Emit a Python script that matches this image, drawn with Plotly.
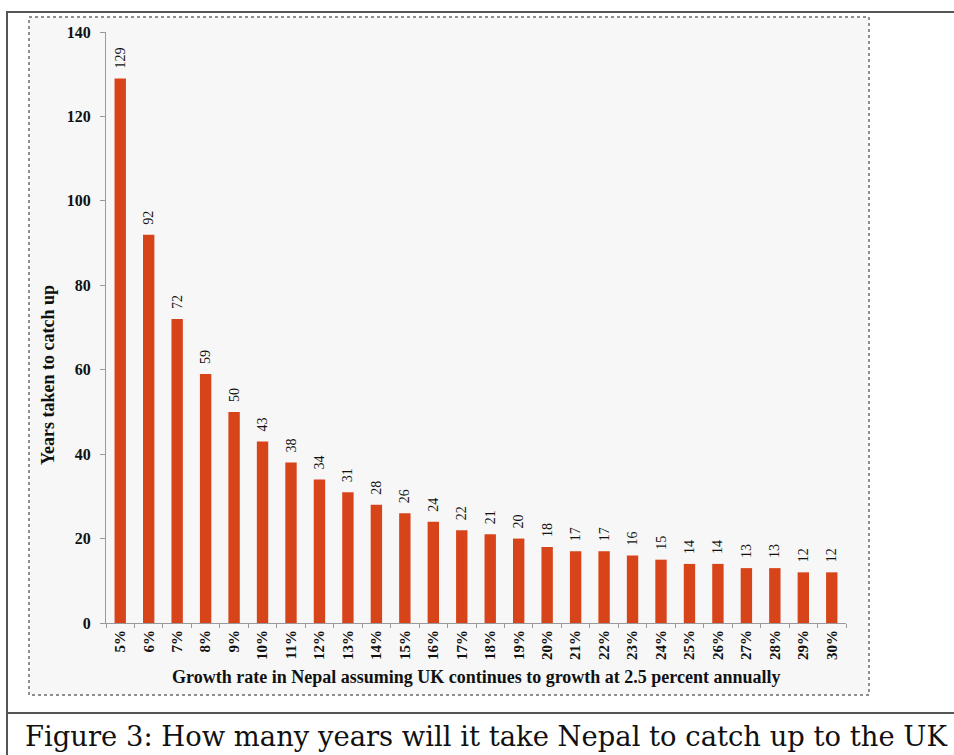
import plotly.graph_objects as go

# Growth rates in Nepal (categories) and years needed to catch up with the UK
growth_rates = ["5%", "6%", "7%", "8%", "9%", "10%", "11%", "12%", "13%", "14%",
                "15%", "16%", "17%", "18%", "19%", "20%", "21%", "22%", "23%", "24%",
                "25%", "26%", "27%", "28%", "29%", "30%"]
years_to_catch_up = [129, 92, 72, 59, 50, 43, 38, 34, 31, 28,
                     26, 24, 22, 21, 20, 18, 17, 17, 16, 15,
                     14, 14, 13, 13, 12, 12]
y_ticks = [0, 20, 40, 60, 80, 100, 120, 140]

W, H = 954, 755
PLOT_L, PLOT_R, PLOT_T, PLOT_B = 106, 846, 32, 623
SERIF = "Liberation Serif, Times New Roman, serif"
CAPTION_FONT = "DejaVu Serif, serif"
BAR_COLOR = "#D8441A"
NBSP = "\u00a0"

fig = go.Figure(
    go.Bar(
        x=growth_rates,
        y=years_to_catch_up,
        marker=dict(color=BAR_COLOR, line=dict(width=0)),
        text=years_to_catch_up,
        # leading non-breaking spaces lift the rotated label off the bar top
        texttemplate=NBSP * 2 + "%{text}",
        textposition="outside",
        textangle=-90,
        constraintext="none",
        cliponaxis=False,
        textfont=dict(family=SERIF, size=14, color="#111111"),
        hoverinfo="skip",
    )
)

# paper coordinates are relative to the plotting area; convert from page pixels
def px_x(v):
    return (v - PLOT_L) / (PLOT_R - PLOT_L)

def px_y(v):
    return (PLOT_B - v) / (PLOT_B - PLOT_T)

shapes = [
    # outer figure frame
    dict(type="rect", xref="paper", yref="paper",
         x0=px_x(7), x1=px_x(980), y0=px_y(12), y1=px_y(790),
         line=dict(color="#555555", width=2), fillcolor="rgba(0,0,0,0)", layer="below"),
    # caption separator
    dict(type="line", xref="paper", yref="paper",
         x0=px_x(7), x1=px_x(980), y0=px_y(713), y1=px_y(713),
         line=dict(color="#555555", width=2)),
    # chart area panel
    dict(type="rect", xref="paper", yref="paper",
         x0=px_x(29), x1=px_x(869), y0=px_y(17), y1=px_y(695),
         line=dict(color="#8f8f8f", width=2, dash="dot"), fillcolor="#F7F7F7", layer="below"),
]

annotations = [
    dict(text="<b>Years taken to catch up</b>", xref="paper", yref="paper",
         x=px_x(48), y=px_y(375), textangle=-90, showarrow=False,
         xanchor="center", yanchor="middle",
         font=dict(family=SERIF, size=18, color="#111111")),
    dict(text="<b>Growth rate in Nepal assuming UK continues to growth at 2.5 percent annually</b>",
         xref="paper", yref="paper", x=px_x(476), y=px_y(677), showarrow=False,
         xanchor="center", yanchor="middle",
         font=dict(family=SERIF, size=18, color="#111111")),
    dict(text="Figure 3: How many years will it take Nepal to catch up to the UK",
         xref="paper", yref="paper", x=px_x(486), y=px_y(736), showarrow=False,
         xanchor="center", yanchor="middle",
         font=dict(family=CAPTION_FONT, size=27.4, color="#111111")),
]

fig.update_layout(
    width=W, height=H,
    margin=dict(l=PLOT_L, r=W - PLOT_R, t=PLOT_T, b=H - PLOT_B, pad=0),
    paper_bgcolor="white",
    plot_bgcolor="rgba(0,0,0,0)",
    bargap=0.6,
    showlegend=False,
    shapes=shapes,
    annotations=annotations,
    xaxis=dict(
        type="category",
        showgrid=False,
        showline=True, linecolor="#9a9a9a", linewidth=1,
        ticks="outside", tickson="boundaries", ticklen=4, tickcolor="#9a9a9a",
        tickangle=-90,
        tickfont=dict(family=SERIF, size=15, color="#111111"),
        tickprefix="<b>", ticksuffix="</b>",
        fixedrange=True,
    ),
    yaxis=dict(
        range=[0, 140],
        tickvals=y_ticks,
        showgrid=False, zeroline=False,
        showline=True, linecolor="#9a9a9a", linewidth=1,
        ticks="outside", ticklen=5, tickcolor="#9a9a9a",
        ticklabelstandoff=6,
        tickfont=dict(family=SERIF, size=16, color="#111111", weight="bold"),
        fixedrange=True,
    ),
)

fig.write_html("out.html")
